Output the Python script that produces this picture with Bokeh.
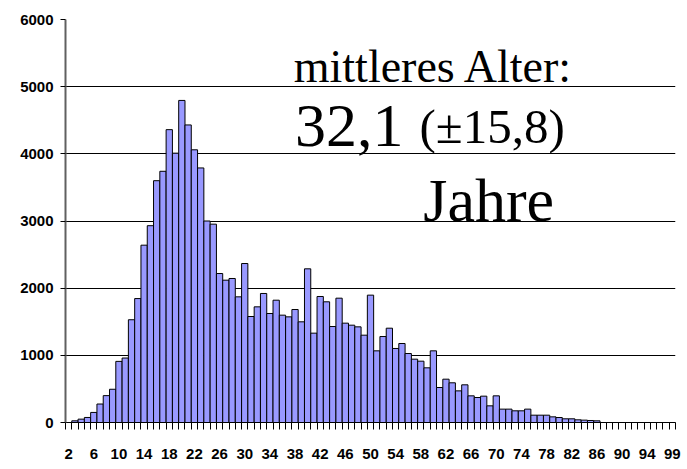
from bokeh.plotting import figure
from bokeh.models import Range1d, FixedTicker, Label
from bokeh.embed import file_html
from bokeh.resources import INLINE

# Age categories (one age between 94 and 99 is absent from the category axis)
ages = list(range(2, 98)) + [99]
counts = [
    0, 25, 50, 75, 150, 275, 400, 495, 910, 960,
    1530, 1845, 2640, 2930, 3600, 3740, 4360, 4010, 4795, 4430,
    4060, 3790, 3000, 2953, 2218, 2119, 2144, 1871, 2367, 1578,
    1722, 1921, 1623, 1821, 1598, 1573, 1682, 1499, 2288, 1330,
    1876, 1797, 1429, 1851, 1479, 1449, 1424, 1300, 1896, 1067,
    1280, 1404, 1102, 1176, 1027, 943, 913, 814, 1067, 521,
    645, 591, 471, 561, 397, 372, 392, 248, 397, 199,
    199, 174, 174, 199, 109, 109, 109, 84, 74, 55,
    55, 40, 35, 30, 25, 0, 0, 0, 0, 0,
    0, 0, 0, 0, 0, 0, 0,
]
label_step = 4
y_ticks = [0, 1000, 2000, 3000, 4000, 5000, 6000]
y_max = 6000

idx = list(range(len(ages)))
label_idx = idx[::label_step]

p = figure(
    frame_width=610, frame_height=403,
    min_border_left=65, min_border_right=8, min_border_top=19, min_border_bottom=44,
    x_range=Range1d(-0.5, len(ages) - 0.5), y_range=Range1d(0, y_max),
    output_backend="svg", toolbar_location=None,
)
p.outline_line_color = None
p.background_fill_color = "white"
p.border_fill_color = "white"

p.vbar(x=idx, top=counts, width=1.0, fill_color="#9999FF",
       line_color="black", line_width=1)

axis_font = "Liberation Sans"

# x axis (category style: ticks between categories)
xa = p.xaxis[0]
xa.ticker = FixedTicker(ticks=label_idx, minor_ticks=[i - 0.5 for i in range(len(ages) + 1)])
xa.major_label_overrides = {i: str(ages[i]) for i in label_idx}
xa.major_tick_line_color = None
xa.major_tick_out = 7
xa.major_tick_in = 0
xa.minor_tick_line_color = "black"
xa.minor_tick_out = 7
xa.minor_tick_in = 0
xa.axis_line_color = "black"
xa.major_label_standoff = 19
xa.major_label_text_font = axis_font
xa.major_label_text_font_style = "bold"
xa.major_label_text_font_size = "15px"
xa.major_label_text_color = "black"

ya = p.yaxis[0]
ya.ticker = FixedTicker(ticks=y_ticks)
ya.minor_tick_line_color = None
ya.major_tick_out = 5
ya.major_tick_in = 0
ya.major_tick_line_color = "black"
ya.axis_line_color = "#606060"
ya.axis_line_width = 2
ya.major_label_standoff = 7
ya.major_label_text_font = axis_font
ya.major_label_text_font_style = "bold"
ya.major_label_text_font_size = "15px"
ya.major_label_text_color = "black"

p.xgrid.grid_line_color = None
p.ygrid.ticker = FixedTicker(ticks=y_ticks)
p.ygrid.grid_line_color = "black"
p.ygrid.grid_line_width = 1

serif = "Liberation Serif"
p.add_layout(Label(x=35.8, y=5306, text="mittleres Alter:", text_font=serif,
                   text_font_size="46px", text_baseline="alphabetic", text_color="black"))
p.add_layout(Label(x=36.0, y=4407, text="32,1", text_font=serif,
                   text_font_size="62px", text_baseline="alphabetic", text_color="black"))
p.add_layout(Label(x=55.8, y=4407, text="(±15,8)", text_font=serif,
                   text_font_size="49px", text_baseline="alphabetic", text_color="black"))
p.add_layout(Label(x=56.4, y=3316, text="Jahre", text_font=serif,
                   text_font_size="62px", text_baseline="alphabetic", text_color="black"))

open("out.html", "w").write(file_html(p, INLINE))
